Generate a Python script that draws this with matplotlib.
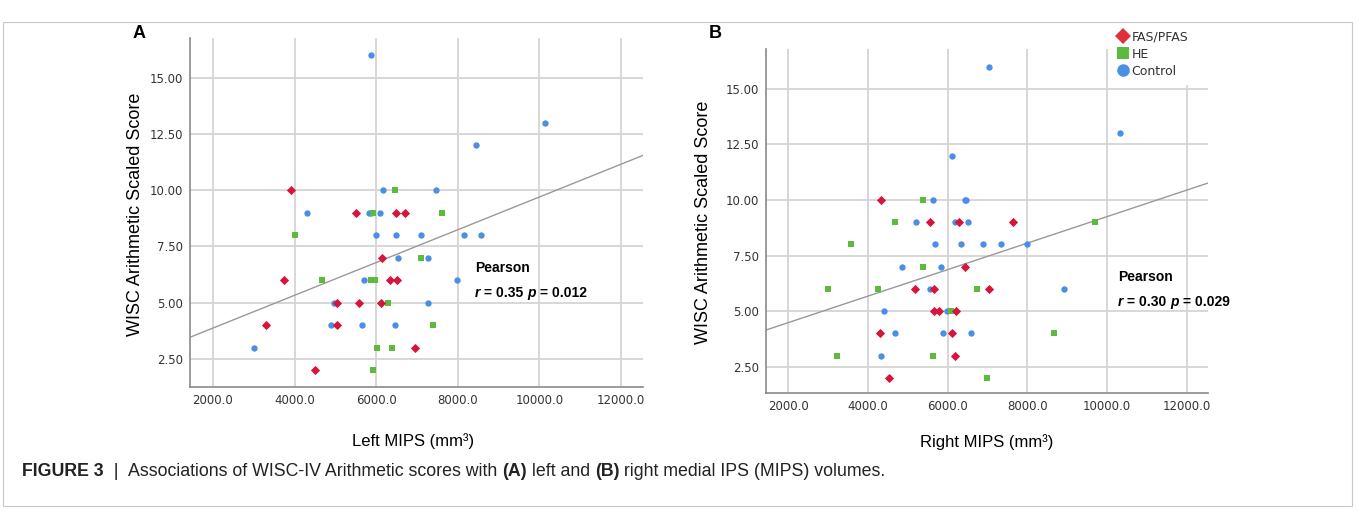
import matplotlib
matplotlib.use('Agg')
import matplotlib.pyplot as plt
from matplotlib.lines import Line2D
from matplotlib.patches import Rectangle

# ---- data ----
# panel A: left MIPS volume (mm3) vs WISC arithmetic score
a_fas_x = [3918, 5509, 6480, 6716, 6137, 3730, 6341, 6504, 5027, 5590, 6113, 3289, 5027, 6953, 4505]
a_fas_y = [10, 9, 9, 9, 7, 6, 6, 6, 5, 5, 5, 4, 4, 3, 2]
a_he_x = [6464, 5917, 7622, 3999, 7092, 4668, 5876, 5966, 6292, 7394, 6015, 6390, 5933]
a_he_y = [10, 9, 9, 8, 7, 6, 6, 6, 5, 4, 3, 3, 2]
a_ctl_x = [5868, 10135, 8446, 6178, 7467, 4309, 5827, 5870, 6096, 5990, 6480, 7092, 8161, 8568,
           6529, 7280, 5696, 7973, 4970, 7263, 4889, 5656, 6472, 3004]
a_ctl_y = [16, 13, 12, 10, 10, 9, 9, 9, 9, 8, 8, 8, 8, 8,
           7, 7, 6, 6, 5, 5, 4, 4, 4, 3]
a_fit = (2.42, 0.000728)   # intercept, slope
a_stats = ('0.35', '0.012')

# panel B: right MIPS volume
b_fas_x = [4320, 5569, 6297, 7629, 6448, 5175, 5652, 7035, 5669, 5795, 6197, 4312, 6121, 6180, 4530]
b_fas_y = [10, 9, 9, 9, 7, 6, 6, 6, 5, 5, 5, 4, 4, 3, 2]
b_he_x = [5376, 4672, 9695, 3583, 5376, 3005, 4253, 6733, 6096, 8677, 3215, 5636, 6984]
b_he_y = [10, 9, 9, 8, 7, 6, 6, 6, 5, 4, 3, 3, 2]
b_ctl_x = [7044, 10318, 6097, 5636, 6440, 6473, 5217, 6189, 6515, 5678, 6323, 6875, 7336, 7998,
           4865, 5828, 5552, 8920, 4413, 5987, 4681, 5879, 6574, 4337]
b_ctl_y = [16, 13, 12, 10, 10, 10, 9, 9, 9, 8, 8, 8, 8, 8,
           7, 7, 6, 6, 5, 5, 4, 4, 4, 3]
b_fit = (3.29, 0.000596)
b_stats = ('0.30', '0.029')

x_ticks = [2000, 4000, 6000, 8000, 10000, 12000]
y_ticks = [2.5, 5.0, 7.5, 10.0, 12.5, 15.0]
group_names = ['FAS/PFAS', 'HE', 'Control']

RED = '#d8143c'
GREEN = '#5cbb3c'
BLUE = '#4a8fe3'
GRID = '#d4d4d4'
SANS = ['Liberation Sans', 'DejaVu Sans']

W, H = 1356, 523
fig = plt.figure(figsize=(W / 100, H / 100), dpi=100)


def fx(px):
    return px / W


def fy(py):
    return 1 - py / H


def runs(x, y, parts, **kw):
    """draw consecutive text pieces with different styles on one line"""
    r = fig.canvas.get_renderer()
    for s, props in parts:
        t = fig.text(x, y, s, **kw, **props)
        x += t.get_window_extent(r).width / fig.bbox.width


def panel(box, xlim, ylim, fas, he, ctl, fit, stats, xlabel, xlabel_xy, ylabel_xy,
          letter, letter_xy, stats_xy):
    l, b, r, t = box
    ax = fig.add_axes([fx(l), fy(b), fx(r) - fx(l), fy(t) - fy(b)])
    ax.set_xlim(*xlim)
    ax.set_ylim(*ylim)
    ax.set_xticks(x_ticks)
    ax.set_yticks(y_ticks)
    ax.set_xticklabels(['%.1f' % v for v in x_ticks])
    ax.set_yticklabels(['%.2f' % v for v in y_ticks])
    ax.tick_params(length=0, pad=5, labelsize=8.5, labelcolor='#333333')
    for lab in ax.get_xticklabels() + ax.get_yticklabels():
        lab.set_family('DejaVu Sans')
    ax.grid(True, color=GRID, lw=1.3)
    ax.set_axisbelow(True)
    for s in ('top', 'right'):
        ax.spines[s].set_visible(False)
    for s in ('left', 'bottom'):
        ax.spines[s].set_color('#8a8a8a')
        ax.spines[s].set_linewidth(1.2)

    ax.axline((0, fit[0]), slope=fit[1], color='#999999', lw=1.0, zorder=2)
    ax.scatter(*ctl, s=21, marker='o', color=BLUE, lw=0, zorder=3)
    ax.scatter(*he, s=20, marker='s', color=GREEN, lw=0, zorder=3)
    ax.scatter(*fas, s=22, marker='D', color=RED, lw=0, zorder=3)

    fig.text(fx(xlabel_xy[0]), fy(xlabel_xy[1]), xlabel, family=SANS, fontsize=12,
             ha='center', va='center')
    fig.text(fx(ylabel_xy[0]), fy(ylabel_xy[1]), 'WISC Arithmetic Scaled Score', family=SANS,
             fontsize=13, rotation=90, ha='center', va='center')

    fig.text(fx(letter_xy[0]), fy(letter_xy[1]), letter, family=SANS, fontsize=13,
             fontweight='bold', va='center')
    sx, sy = stats_xy
    fig.text(fx(sx), fy(sy), 'Pearson', family=SANS, fontsize=10, fontweight='bold', va='center')
    bd = dict(fontweight='bold')
    bi = dict(fontweight='bold', fontstyle='italic')
    runs(fx(sx), fy(sy + 25), [('r', bi), (' = %s ' % stats[0], bd), ('p', bi), (' = %s' % stats[1], bd)],
         family=SANS, fontsize=10, va='center')
    return ax


panel((190.3, 386.7, 642.7, 38.3), (1444, 12531), (1.27, 16.75),
      (a_fas_x, a_fas_y), (a_he_x, a_he_y), (a_ctl_x, a_ctl_y), a_fit, a_stats,
      'Left MIPS (mm³)', (413, 441), (136, 214), 'A', (133, 33), (475, 268))

panel((766, 393.3, 1208.3, 49.3), (1440, 12543), (1.30, 16.78),
      (b_fas_x, b_fas_y), (b_he_x, b_he_y), (b_ctl_x, b_ctl_y), b_fit, b_stats,
      'Right MIPS (mm³)', (987, 442), (703, 222), 'B', (709, 33), (1118, 277))

# white patch behind the legend hides the top of the 12000 gridline, as in the source
fig.add_artist(Rectangle((fx(1108), fy(85)), fx(1196) - fx(1108), fy(26) - fy(85),
                         transform=fig.transFigure, fc='white', ec='none', zorder=2))

handles = [Line2D([], [], ls='none', marker='D', ms=8.5, color='#e0303a', mew=0),
           Line2D([], [], ls='none', marker='s', ms=8, color=GREEN, mew=0),
           Line2D([], [], ls='none', marker='o', ms=9, color=BLUE, mew=0)]
leg = fig.legend(handles, group_names, loc='upper left', bbox_to_anchor=(fx(1114), fy(27)),
                 frameon=False, prop={'family': 'DejaVu Sans', 'size': 9}, handlelength=0.8,
                 handletextpad=0.3, labelspacing=0.32, borderpad=0.3, borderaxespad=0)
leg.set_zorder(3)
for t in leg.get_texts():
    t.set_color('#333333')

# outer frame of the figure
fig.add_artist(Rectangle((fx(3), fy(506)), fx(1352) - fx(3), fy(22) - fy(506),
                         transform=fig.transFigure, fill=False, ec='#c8c8c8', lw=0.8))

cap = ['Liberation Sans']
bold = dict(fontweight='bold')
reg = dict()
runs(fx(22), fy(472), [('FIGURE 3', bold), ('  |  ', reg),
                       ('Associations of WISC-IV Arithmetic scores with ', reg), ('(A)', bold),
                       (' left and ', reg), ('(B)', bold), (' right medial IPS (MIPS) volumes.', reg)],
     family=cap, fontsize=12.8, va='center', color='#222222')

fig.savefig('out.png', dpi=100)
